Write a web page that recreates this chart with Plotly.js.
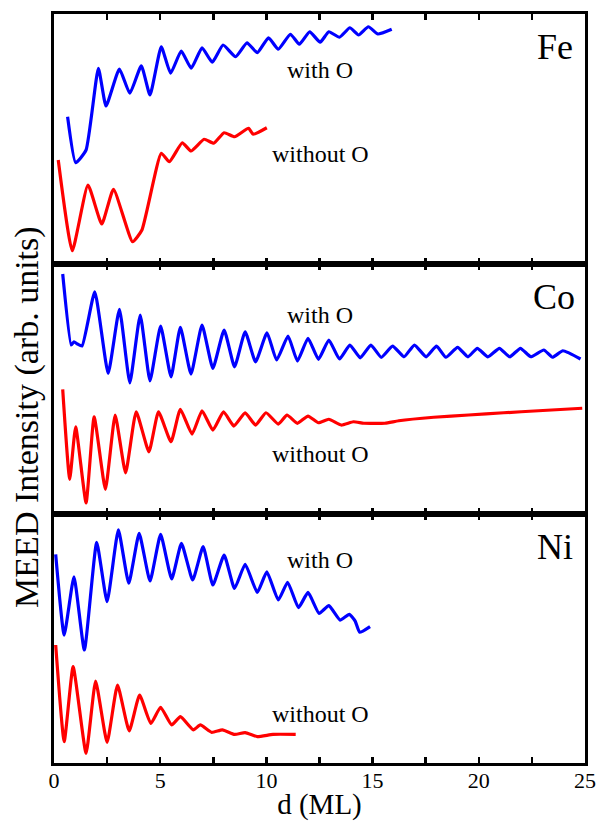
<!DOCTYPE html>
<html>
<head>
<meta charset="utf-8">
<script src="https://cdn.plot.ly/plotly-3.0.1.min.js"></script>
<style>html,body{margin:0;padding:0;background:#fff;}#chart{width:598px;height:821px;}</style>
</head>
<body>
<div id="chart"></div>
<script>
// ---- Data (thickness d in ML, MEED intensity in arb. units, 0-100 per panel) ----
const feWithX    = [0.64,1.02,1.51,2.09,2.45,3.08,3.57,4.11,4.52,5.05,5.49,5.99,6.46,6.97,7.45,7.96,8.55,9.09,9.57,10.1,10.56,11.13,11.55,12.04,12.53,12.94,13.44,13.93,14.34,14.8,15.25,15.9];
const feWithY    = [58.9,40.5,45.6,78.3,63.2,78.0,68.3,79.3,67.6,86.9,76.3,85.2,78.3,86.5,80.7,87.6,82.9,88.5,84.5,90.5,85.9,91.9,87.9,92.9,88.7,92.9,90.7,94.5,91.6,94.9,92.0,93.9];
const feWithoutX = [0.2,0.86,1.6,2.25,2.8,3.7,4.14,5.05,5.43,6.04,6.45,7.07,7.52,8.01,8.5,9.16,9.38,10.02];
const feWithoutY = [41.6,5.3,31.6,16.0,29.9,8.9,13.6,44.3,40.9,48.5,45.2,49.9,48.3,52.5,50.9,54.3,51.9,54.5];

const coWithX    = [0.41,0.81,0.94,1.1,1.32,1.92,2.55,3.08,3.57,4.06,4.52,5.02,5.51,5.95,6.45,6.97,7.48,8.01,8.5,9.0,9.49,10.03,10.48,11.02,11.46,11.96,12.45,12.94,13.44,13.93,14.42,14.92,15.41,15.94,16.48,16.97,17.52,18.01,18.45,19.0,19.49,19.93,20.43,20.97,21.46,21.96,22.45,23.06,23.47,23.96,24.79];
const coWithY    = [96.0,67.6,68.9,68.0,67.2,88.9,56.3,81.9,52.5,79.6,53.3,75.2,54.9,74.7,56.0,75.6,58.3,73.6,58.9,72.9,60.9,72.5,61.6,71.2,61.2,70.3,61.9,69.6,62.0,67.6,62.5,67.6,62.7,67.2,62.9,67.6,62.9,67.2,62.7,66.7,62.9,66.3,62.9,66.3,62.9,66.3,62.9,65.6,62.7,65.3,62.0];
const coWithoutX = [0.41,0.74,1.02,1.51,1.89,2.42,2.88,3.37,3.87,4.47,4.92,5.51,5.95,6.5,6.97,7.48,7.98,8.47,9.0,9.49,9.98,10.56,10.97,11.46,11.96,12.45,12.94,13.52,14.1,14.59,15.58,16.23,17.88,19.52,21.17,22.81,24.87];
const coWithoutY = [49.9,13.9,34.9,4.5,38.9,9.9,39.6,16.5,40.9,24.9,40.9,28.9,41.9,32.0,41.3,33.6,40.9,35.2,40.5,35.6,40.5,36.0,39.6,36.3,39.2,36.5,37.9,35.6,36.9,36.3,36.3,37.3,38.7,39.6,40.5,41.3,42.3];

const niWithX    = [0.08,0.48,0.94,1.43,2.01,2.5,3.03,3.52,4.01,4.52,5.02,5.54,6.0,6.53,7.02,7.48,8.01,8.5,9.0,9.57,10.02,10.56,11.0,11.51,11.96,12.48,12.94,13.47,13.9,14.18,14.39,14.88];
const niWithY    = [83.8,51.4,74.8,45.4,88.6,64.8,93.6,72.2,92.2,73.1,91.8,73.9,88.2,73.5,86.9,71.5,83.5,70.1,79.8,68.5,76.8,65.5,72.6,62.4,68.5,60.1,63.2,57.4,59.7,57.0,52.5,54.8];
const niWithoutX = [0.08,0.48,0.9,1.51,1.96,2.5,2.99,3.54,4.03,4.56,5.02,5.54,5.95,6.56,6.89,7.43,7.93,8.5,9.0,9.57,10.31,11.38];
const niWithoutY = [47.4,8.6,38.7,3.9,32.9,8.3,31.3,12.9,27.3,15.9,22.4,15.3,18.6,13.3,15.3,12.3,13.3,11.5,12.2,10.6,11.5,11.5];

const tickVals   = [0,2.5,5,7.5,10,12.5,15,17.5,20,22.5,25];
const tickText   = ['0','','5','','10','','15','','20','','25'];
const panelNames = ['Fe','Co','Ni'];
const seriesNames = ['with O','without O'];

// ---- Styling ----
const FONT = 'Liberation Serif, Times New Roman, serif';
const BLUE = '#0000ff', RED = '#ff0000';

function tr(x, y, color, xa, ya, name) {
  return {x: x, y: y, type: 'scatter', mode: 'lines', name: name,
          line: {color: color, width: 3.2, shape: 'spline', smoothing: 0.45},
          xaxis: xa, yaxis: ya, showlegend: false, hoverinfo: 'skip'};
}

const data = [
  tr(feWithX, feWithY, BLUE, 'x', 'y', 'Fe with O'),
  tr(feWithoutX, feWithoutY, RED, 'x', 'y', 'Fe without O'),
  tr(coWithX, coWithY, BLUE, 'x2', 'y2', 'Co with O'),
  tr(coWithoutX, coWithoutY, RED, 'x2', 'y2', 'Co without O'),
  tr(niWithX, niWithY, BLUE, 'x3', 'y3', 'Ni with O'),
  tr(niWithoutX, niWithoutY, RED, 'x3', 'y3', 'Ni without O')
];

function xax(anchor, showLabels) {
  return {
    anchor: anchor, range: [0, 25], showgrid: false, zeroline: false,
    showline: true, linewidth: 3, linecolor: '#000', mirror: 'ticks',
    ticks: 'inside', ticklen: 6, tickwidth: 2.5, tickcolor: '#000',
    tickmode: 'array', tickvals: tickVals, ticktext: tickText,
    showticklabels: showLabels, ticklabelstandoff: -4,
    tickfont: {family: FONT, size: 22, color: '#000'}
  };
}
function yax(anchor, domain) {
  return {
    anchor: anchor, domain: domain, range: [0, 100], showgrid: false, zeroline: false,
    showline: true, linewidth: 3, linecolor: '#000', mirror: true,
    ticks: '', showticklabels: false, fixedrange: true
  };
}

const d1 = 0.3324, d2 = 0.6662;
const layout = {
  width: 598, height: 821,
  margin: {l: 54, r: 13, t: 14, b: 58},
  paper_bgcolor: '#fff', plot_bgcolor: '#fff',
  font: {family: FONT, color: '#000'},
  xaxis: xax('y', false),
  yaxis: yax('x', [d2, 1]),
  xaxis2: xax('y2', false),
  yaxis2: yax('x2', [d1, d2]),
  xaxis3: Object.assign(xax('y3', true), {title: {text: 'd (ML)', font: {family: FONT, size: 29, color: '#000'}, standoff: 0}}),
  yaxis3: yax('x3', [0, d1]),
  annotations: [
    {xref: 'paper', yref: 'paper', x: -0.051, y: 0.462, text: 'MEED Intensity (arb. units)', textangle: -90,
     showarrow: false, font: {family: FONT, size: 34, color: '#000'}, xanchor: 'center', yanchor: 'middle'},
    // Fe
    {xref: 'x', yref: 'y', x: 23.6, y: 86.9, text: panelNames[0], showarrow: false, font: {family: FONT, size: 36}},
    {xref: 'x', yref: 'y', x: 12.53, y: 77.6, text: seriesNames[0], showarrow: false, font: {family: FONT, size: 24}},
    {xref: 'x', yref: 'y', x: 12.53, y: 44.0, text: seriesNames[1], showarrow: false, font: {family: FONT, size: 24}},
    // Co
    {xref: 'x2', yref: 'y2', x: 23.55, y: 86.7, text: panelNames[1], showarrow: false, font: {family: FONT, size: 36}},
    {xref: 'x2', yref: 'y2', x: 12.53, y: 79.6, text: seriesNames[0], showarrow: false, font: {family: FONT, size: 24}},
    {xref: 'x2', yref: 'y2', x: 12.53, y: 24.0, text: seriesNames[1], showarrow: false, font: {family: FONT, size: 24}},
    // Ni
    {xref: 'x3', yref: 'y3', x: 23.6, y: 86.9, text: panelNames[2], showarrow: false, font: {family: FONT, size: 36}},
    {xref: 'x3', yref: 'y3', x: 12.53, y: 81.5, text: seriesNames[0], showarrow: false, font: {family: FONT, size: 24}},
    {xref: 'x3', yref: 'y3', x: 12.53, y: 19.5, text: seriesNames[1], showarrow: false, font: {family: FONT, size: 24}}
  ]
};

Plotly.newPlot('chart', data, layout, {displayModeBar: false, staticPlot: true});
</script>
</body>
</html>
